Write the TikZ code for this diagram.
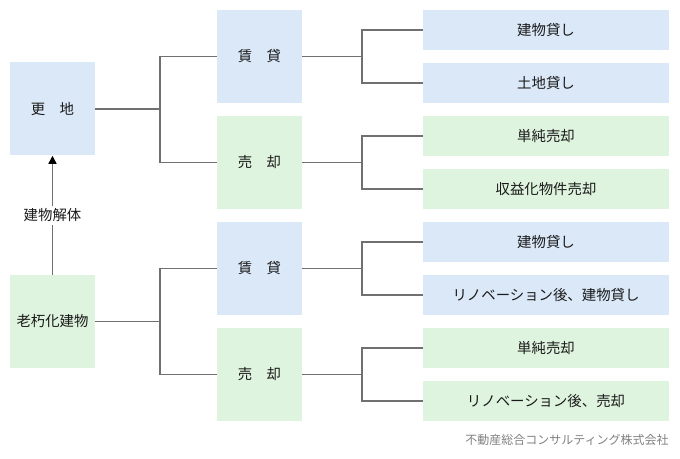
\documentclass[tikz,border=0pt]{standalone}
\usepackage{fontspec}
\setmainfont{Noto Sans CJK JP}
\usepackage{tikz}
\usetikzlibrary{arrows.meta}
\definecolor{boxblue}{HTML}{DAE8F8}
\definecolor{boxgreen}{HTML}{DFF4DF}
\definecolor{linegray}{HTML}{707070}
\definecolor{textdark}{HTML}{1A1A1A}

\begin{document}
\begin{tikzpicture}[x=0.75pt,y=0.75pt,yscale=-1,
    font=\fontsize{10.8}{12}\selectfont, text=textdark,
    bigbox/.style={minimum width=63.75pt,minimum height=69.75pt,inner sep=0pt},
    smallbox/.style={minimum width=184.5pt,minimum height=30pt,inner sep=0pt},
    blfill/.style={fill=boxblue},
    grfill/.style={fill=boxgreen},
    tree/.style={draw=linegray,line width=1.1pt}]
        % canvas
        \useasboundingbox (0,0) rectangle (680,459);

        % Left column
        \node [bigbox,blfill] (sarachi) at (52.5,109) {更　地};
        \node [bigbox,grfill] (roukyu) at (52.5,321.5) {老朽化建物};

        % Middle column
        \node [bigbox,blfill] (chintai1) at (259.5,56.5) {賃　貸};
        \node [bigbox,grfill] (baikyaku1) at (259.5,162.5) {売　却};
        \node [bigbox,blfill] (chintai2) at (259.5,268.5) {賃　貸};
        \node [bigbox,grfill] (baikyaku2) at (259.5,374.5) {売　却};

        % Right column
        \node [smallbox,blfill] (tatekashi1) at (546,30) {建物貸し};
        \node [smallbox,blfill] (tochikashi) at (546,83) {土地貸し};
        \node [smallbox,grfill] (tanjun1) at (546,136) {単純売却};
        \node [smallbox,grfill] (shueki) at (546,189) {収益化物件売却};
        \node [smallbox,blfill] (tatekashi2) at (546,242) {建物貸し};
        \node [smallbox,blfill] (renokashi) at (546,295) {リノベーション後、建物貸し};
        \node [smallbox,grfill] (tanjun2) at (546,348) {単純売却};
        \node [smallbox,grfill] (renobai) at (546,401) {リノベーション後、売却};

        % Junctions
        \coordinate (ja) at (160,109);
        \coordinate (jb) at (160,321.5);
        \coordinate (jc) at (362,56.5);
        \coordinate (jd) at (362,162.5);
        \coordinate (je) at (362,268.5);
        \coordinate (jf) at (362,374.5);

        % Connectors
        \draw [tree] (sarachi.east) -- (ja);
        \draw [tree] (chintai1.west) -| (ja) |- (baikyaku1.west);
        \draw [tree] (roukyu.east) -- (jb);
        \draw [tree] (chintai2.west) -| (jb) |- (baikyaku2.west);

        \draw [tree] (chintai1.east) -- (jc);
        \draw [tree] (tatekashi1.west) -| (jc) |- (tochikashi.west);
        \draw [tree] (baikyaku1.east) -- (jd);
        \draw [tree] (tanjun1.west) -| (jd) |- (shueki.west);
        \draw [tree] (chintai2.east) -- (je);
        \draw [tree] (tatekashi2.west) -| (je) |- (renokashi.west);
        \draw [tree] (baikyaku2.east) -- (jf);
        \draw [tree] (tanjun2.west) -| (jf) |- (renobai.west);

        % Demolition arrow
        \draw [draw=linegray,line width=1.1pt,-{Triangle[width=6pt,length=6pt,color=black]}]
            (roukyu.north) -- node [fill=white,inner sep=2pt] (kaitai) {建物解体} (sarachi.south);

        % Footer
        \node [anchor=east,inner sep=0pt,text=gray,font=\fontsize{9}{11}\selectfont] (credit) at (669,440)
            {不動産総合コンサルティング株式会社};
\end{tikzpicture}
\end{document}
